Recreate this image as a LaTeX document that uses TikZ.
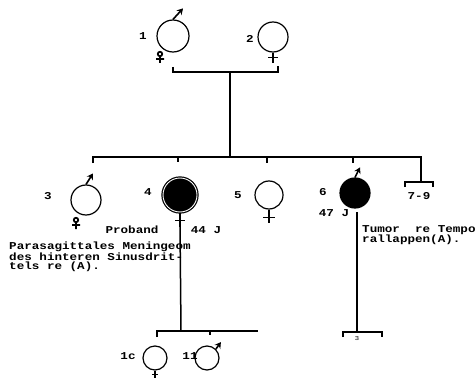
\documentclass[tikz,border=0pt]{standalone}
\usepackage{fontspec}
\newfontfamily\typer[FakeStretch=1.2]{Liberation Mono}
\usepackage{tikz}
\usetikzlibrary{arrows.meta}
\tikzset{
    person/.style={circle,draw,line width=1.2pt,inner sep=0pt,minimum size=#1},
    person/.default=30pt,
    sick/.style={fill=black},
    male/.style={line width=1.6pt,-{Stealth[length=6pt,width=7pt]}},
    female/.style={line width=1.5pt},
    dead/.style={line width=1.8pt},
    line/.style={line width=1.5pt},
    lbl/.style={inner sep=1pt}
}
\begin{document}
\begin{tikzpicture}[x=1pt,y=-1pt,font=\typer\bfseries\fontsize{10.5}{9}\selectfont]
        \useasboundingbox (0,0) rectangle (476,385);
        \node[person=32pt] (p1) at (173,36) {};
        \node[person=30pt] (p2) at (273,37) {};
        \node[person=30pt] (p3) at (86,200) {};
        \node[person=34pt,sick,draw=black,double=white,double distance=0.9pt] (p4) at (180,195) {};
        \node[person=28pt] (p5) at (269,195) {};
        \node[person=30pt,sick] (p6) at (355,193) {};
        \node[person=24pt] (p10) at (155,358) {};
        \node[person=24pt] (p11) at (207,358) {};
        \node[lbl] (n1) at (143,36) {1};
        \node[lbl] (n2) at (250,39) {2};
        \node[lbl] (n3) at (48,196) {3};
        \node[lbl] (n4) at (148,192) {4};
        \node[lbl] (n5) at (238,195) {5};
        \node[lbl] (n6) at (323,192) {6};
        \node[lbl] (n10) at (128,356) {1c};
        \node[lbl] (n11) at (190,356) {11};
        \node[lbl] (n79) at (419,196) {7-9};
        \node[lbl] (pro) at (132,230) {Proband};
        \node[lbl] (a4) at (206,230) {44 J};
        \node[lbl] (a6) at (334,213) {47 J};
        \node[lbl,anchor=north west,align=left] (t4) at (8,241) {Parasagittales Meningeom\\des hinteren Sinusdrit-\\tels re (A).};
        \node[lbl,anchor=north west,align=left] (t6) at (361,224) {Tumor\ \ re Tempo\\rallappen(A).};
        \node[lbl,font=\typer\fontsize{6}{6}\selectfont] (n12) at (357,339) {3};
        \draw[male] (p1.north) -- ++(10,-11);
        \draw[male] (p3.north) -- ++(7,-11);
        \draw[male] (p6.north) -- ++(5,-10);
        \draw[male] (p11.north east) -- ++(5,-7);
        \draw[female] (p2.south) -- ++(0,10) ++(-5,-5) -- ++(10,0);
        \draw[female] (p4.south) -- ++(0,14) ++(-5,-6) -- ++(10,0);
        \draw[female] (p5.south) -- ++(0,13) ++(-6,-5) -- ++(12,0);
        \draw[female] (p10.south) -- ++(0,7) ++(-3,-3) -- ++(6,0);
        \draw[dead] (160,54) circle (2.2) (160,56) -- (160,63) (156,59) -- (164,59);
        \draw[dead] (76,220) circle (2.2) (76,222) -- (76,229) (72,225) -- (80,225);
        \coordinate (c12) at (230,72);
        \coordinate (s2) at (230,157);
        \draw[line] (173,67) -- (173,72) -- (278,72) -- (278,66);
        \draw[line] (c12) -- (s2);
        \draw[line] (93,163) -- (93,157) -- (421,157) -- (421,182);
        \draw[line] (178,157) -- (178,162);
        \draw[line] (267,157) -- (267,163);
        \draw[line] (353,157) -- (353,163);
        \draw[line] (405,187) -- (405,182) -- (433,182) -- (433,187);
        \draw[line] ([yshift=-14pt]p4.south) -- (181,331);
        \draw[line] (157,337) -- (157,331) -- (258,331);
        \draw[line] (210,331) -- (210,335);
        \draw[line] (357,212) -- (357,332);
        \draw[line] (343,337) -- (343,332) -- (382,332) -- (382,337);
\end{tikzpicture}
\end{document}
